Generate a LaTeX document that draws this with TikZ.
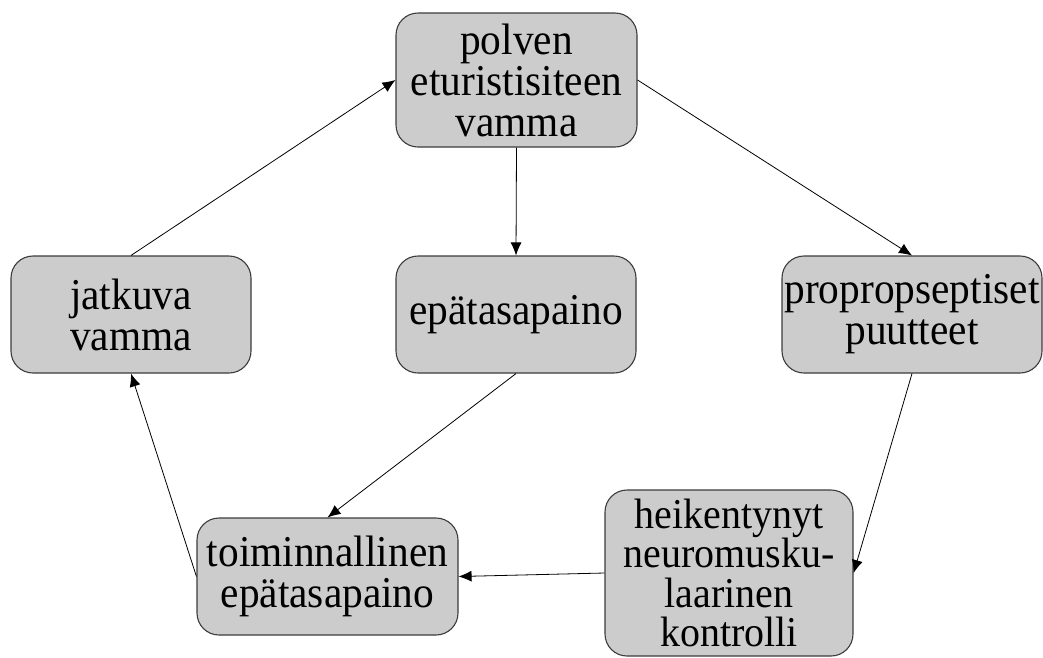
\documentclass[tikz,border=0pt]{standalone}
\usepackage{fontspec}
\setmainfont{Liberation Serif}[FakeStretch=0.94]
\usetikzlibrary{arrows.meta}
\definecolor{boxgray}{RGB}{204,204,204}
\definecolor{boxline}{RGB}{60,60,60}
\tikzset{
  box/.style={draw=boxline, line width=1.1pt, fill=boxgray, rounded corners=22pt,
    align=center, inner sep=0pt, font=\fontsize{44}{41}\selectfont},
  conn/.style={draw=black, line width=0.8pt, -{Latex[length=13pt,width=11pt]}}
}
\begin{document}
\begin{tikzpicture}[x=1pt,y=-1pt]
\useasboundingbox (0,0) rectangle (1043,657);
\fill[white] (0,0) rectangle (1043,657);
\node[box, minimum width=241pt, minimum height=134pt] (p) at (516.5,80) {polven\\eturistisiteen\\vamma};
\node[box, minimum width=240pt, minimum height=117pt] (e) at (516,314.5) {epätasapaino};
\node[box, minimum width=240pt, minimum height=117pt] (j) at (131,314.5) {jatkuva\\vamma};
\node[box, minimum width=260pt, minimum height=117pt] (pr) at (912,314.5) {propropseptiset\\puutteet};
\node[box, minimum width=248pt, minimum height=166pt, font=\fontsize{42.5}{39.5}\selectfont] (h) at (729,573) {heikentynyt\\neuromusku-\\laarinen\\kontrolli};
\node[box, minimum width=261pt, minimum height=117pt] (t) at (327.5,576.5) {toiminnallinen\\epätasapaino};
\draw[conn] (p.east) -- (pr.north);
\draw[conn] (p.south) -- (e.north);
\draw[conn] (j.north) -- (p.west);
\draw[conn] (e.south) -- (t.north);
\draw[conn] (pr.south) -- (h.east);
\draw[conn] (h.west) -- (t.east);
\draw[conn] (t.west) -- (j.south);
\end{tikzpicture}
\end{document}
